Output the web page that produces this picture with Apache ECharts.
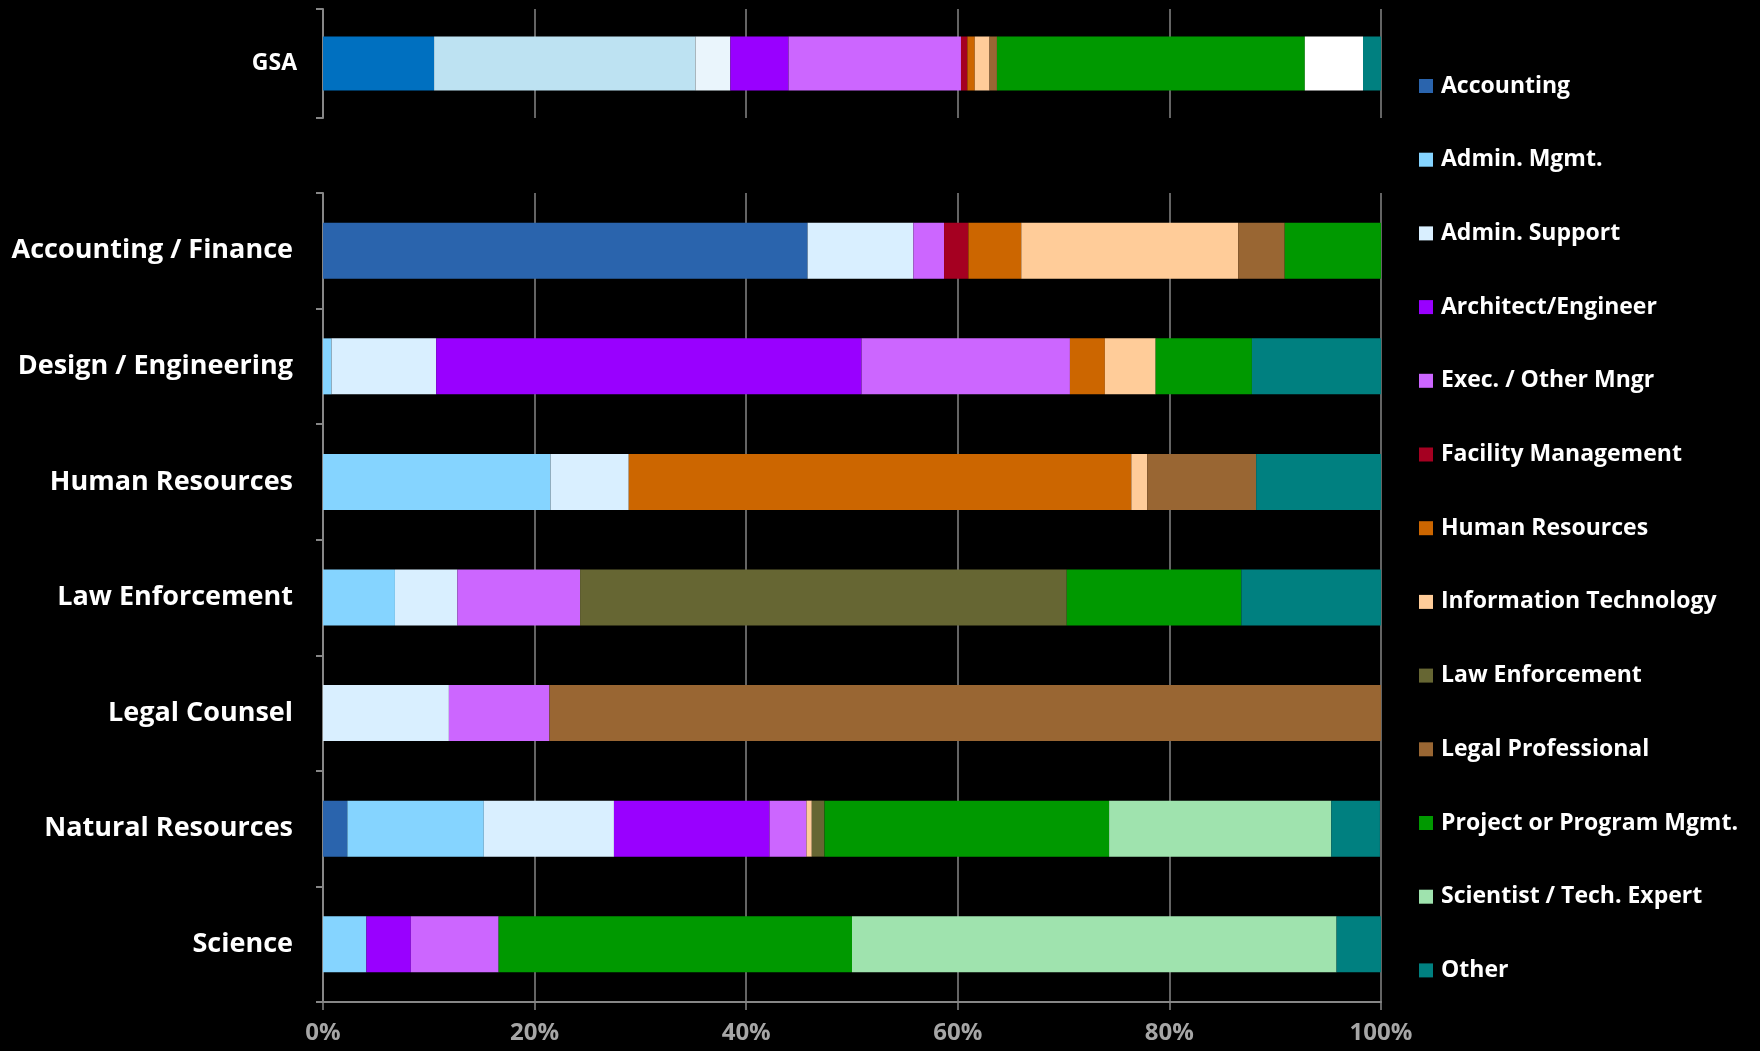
<!DOCTYPE html>
<html>
<head>
<meta charset="utf-8">
<script src="https://cdn.jsdelivr.net/npm/echarts@6/dist/echarts.min.js"></script>
<style>
  html, body { margin: 0; padding: 0; background: #000; }
  #main { width: 1760px; height: 1051px; }
</style>
</head>
<body>
<div id="main"></div>
<script>
// rows: GSA (own panel) then the seven job families
var topCategory = ['GSA'];
var categories = ['Accounting / Finance', 'Design / Engineering', 'Human Resources',
  'Law Enforcement', 'Legal Counsel', 'Natural Resources', 'Science'];

var seriesNames = ['Accounting', 'Admin. Mgmt.', 'Admin. Support', 'Architect/Engineer',
  'Exec. / Other Mngr', 'Facility Management', 'Human Resources', 'Information Technology',
  'Law Enforcement', 'Legal Professional', 'Project or Program Mgmt.',
  'Scientist / Tech. Expert', 'Other'];

// share (%) per row: [GSA, Acc/Fin, Design, HR, Law Enf, Legal, Natural, Science]
var accounting   = [10.5, 45.8, 0,    0,    0,    0,    2.3,  0];
var adminMgmt    = [24.7, 0,    0.8,  21.5, 6.8,  0,    12.9, 4.1];
var adminSupport = [3.3,  10.0, 9.9,  7.4,  5.9,  11.9, 12.3, 0];
var architect    = [5.5,  0,    40.2, 0,    0,    0,    14.7, 4.2];
var execMngr     = [16.3, 2.9,  19.7, 0,    11.6, 9.5,  3.5,  8.3];
var facility     = [0.6,  2.3,  0,    0,    0,    0,    0,    0];
var humanRes     = [0.7,  5.0,  3.3,  47.5, 0,    0,    0,    0];
var infoTech     = [1.4,  20.5, 4.8,  1.5,  0,    0,    0.5,  0];
var lawEnf       = [0,    0,    0,    0,    46.0, 0,    1.2,  0];
var legalProf    = [0.7,  4.4,  0,    10.3, 0,    78.6, 0,    0];
var projectMgmt  = [29.1, 9.1,  9.1,  0,    16.5, 0,    26.9, 33.4];
var scientist    = [5.5,  0,    0,    0,    0,    0,    21.0, 45.8];
var other        = [1.7,  0,    12.2, 11.8, 13.2, 0,    4.6,  4.2];

var values = [accounting, adminMgmt, adminSupport, architect, execMngr, facility, humanRes,
  infoTech, lawEnf, legalProf, projectMgmt, scientist, other];

var colors = ['#2A64AD', '#85D4FF', '#D9EFFF', '#9900FF', '#CC66FF', '#A50021', '#CC6600',
  '#FFCC99', '#666633', '#996633', '#009900', '#9FE3AE', '#008080'];
// the GSA bar was drawn with a slightly different palette
var gsaColors = ['#0070C0', '#BDE2F2', '#EAF5FC', '#9900FF', '#CC66FF', '#A50021', '#CC6600',
  '#FFCC99', '#666633', '#996633', '#009900', '#FFFFFF', '#008080'];

var xTicks = ['0%', '20%', '40%', '60%', '80%', '100%'];

var font = '"Open Sans", "Noto Sans", sans-serif';
var axisGray = '#868686';

var series = [];
for (var i = 0; i < seriesNames.length; i++) {
  series.push({
    name: seriesNames[i],
    type: 'bar',
    stack: 'gsa',
    xAxisIndex: 0,
    yAxisIndex: 0,
    barWidth: 54,
    itemStyle: { color: colors[i] },
    data: [{ value: values[i][0], itemStyle: { color: gsaColors[i] } }]
  });
  series.push({
    name: seriesNames[i],
    type: 'bar',
    stack: 'jobs',
    xAxisIndex: 1,
    yAxisIndex: 1,
    barWidth: 56,
    itemStyle: { color: colors[i] },
    data: values[i].slice(1)
  });
}

var xAxisBase = {
  type: 'value',
  min: 0,
  max: 100,
  interval: 20,
  splitLine: { show: true, lineStyle: { color: axisGray, width: 1.5 } }
};

var myChart = echarts.init(document.getElementById('main'));
var option = {
  backgroundColor: '#000',
  animation: false,
  grid: [
    { left: 323, right: 379, top: 9, height: 109, outerBoundsMode: 'none' },
    { left: 323, right: 379, top: 193, bottom: 49, outerBoundsMode: 'none' }
  ],
  legend: {
    orient: 'vertical',
    left: 1414,
    top: 69,
    itemWidth: 14,
    itemHeight: 14,
    itemGap: 49.7,
    icon: 'rect',
    data: seriesNames,
    textStyle: {
      color: '#fff', fontSize: 23, fontWeight: 'bold', fontFamily: font,
      lineHeight: 24, padding: [0, 0, 0, 3]
    }
  },
  xAxis: [
    Object.assign({}, xAxisBase, {
      gridIndex: 0,
      axisLine: { show: false },
      axisTick: { show: false },
      axisLabel: { show: false }
    }),
    Object.assign({}, xAxisBase, {
      gridIndex: 1,
      axisLine: { show: true, lineStyle: { color: axisGray, width: 2 } },
      axisTick: { show: true, length: 8, lineStyle: { color: axisGray, width: 1.5 } },
      axisLabel: {
        color: '#A6A6A6',
        fontSize: 24,
        lineHeight: 24,
        fontWeight: 'bold',
        fontFamily: font,
        margin: 19,
        formatter: function (v) { return xTicks[Math.round(v / 20)]; }
      }
    })
  ],
  yAxis: [
    {
      type: 'category',
      gridIndex: 0,
      data: topCategory,
      axisLine: { show: true, lineStyle: { color: axisGray, width: 2 } },
      axisTick: { show: true, length: 7, lineStyle: { color: axisGray, width: 2 } },
      axisLabel: { color: '#fff', fontSize: 23, fontWeight: 'bold', fontFamily: font, margin: 26 }
    },
    {
      type: 'category',
      gridIndex: 1,
      inverse: true,
      data: categories,
      axisLine: { show: true, lineStyle: { color: axisGray, width: 2 } },
      axisTick: { show: true, length: 7, lineStyle: { color: axisGray, width: 2 } },
      axisLabel: { color: '#fff', fontSize: 27, fontWeight: 'bold', fontFamily: font, margin: 30 }
    }
  ],
  series: series
};
myChart.setOption(option);
</script>
</body>
</html>
